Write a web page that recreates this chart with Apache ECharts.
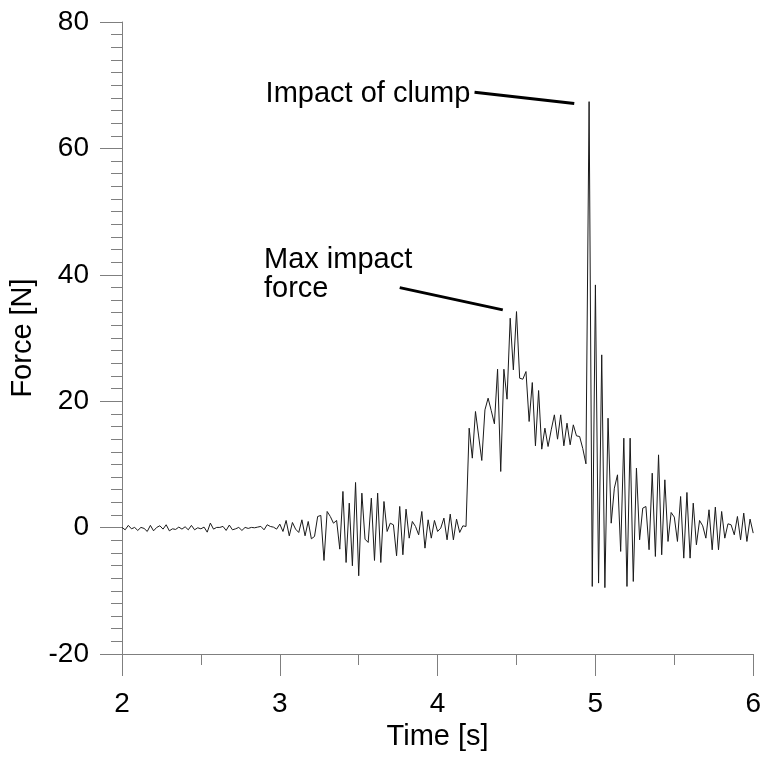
<!DOCTYPE html>
<html>
<head>
<meta charset="utf-8">
<script src="https://cdn.jsdelivr.net/npm/echarts@6/dist/echarts.min.js"></script>
<style>html,body{margin:0;padding:0;background:#fff;}#c{width:764px;height:757px;}</style>
</head>
<body>
<div id="c"></div>
<script>
// Time axis: samples every 0.02 s from 2 s to 6 s
const tStart = 2, tStep = 0.02;
// Force values [N], in sample order
const forceQuiet = [0.03,-0.35,0.35,-0.19,0.03,-0.45,0.03,-0.13,-0.61,0.35,-0.51,0.03,0.29,-0.24,0.45,-0.51,-0.19,-0.29,0.08,-0.24,0.13,-0.35,0.35,-0.35,-0.03,-0.19,0.08,-0.72,0.71,-0.24,0.03,0.03,0.19,-0.45,0.40,-0.35,-0.19,0.03,-0.45,0.03,-0.13,0.03,-0.03,0.08,0.19,-0.35,0.45];
const forceOscillation = [0.18,0.07,-0.24,0.55,-0.61,1.13,-1.30,0.81,-0.24,-0.77,1.23,-1.30,0.97,-1.77,-1.40,1.76,1.92,-5.20,2.55,1.76,0.70,1.13,-3.41,5.72,-5.52,3.87,-6.04,7.14,-7.62,5.45,-1.83,-2.35,4.66,-5.20,5.45,-5.52,4.13,-0.61,0.70,0.44,-4.46,3.35,-4.30,2.92,-1.67,0.97,0.18,-1.14,2.55,-3.25,1.23,-1.67,1.13,-0.61,-0.08,1.50,-1.93,2.13,-1.93,1.34,-0.77,0.28,0.18];
const forceImpact = [15.73,10.99,18.37,14.5,10.62,18.63,20.48,18.5,16.42,25.06,8.88,25.06,20.32,33.13,24.96,34.18,23.64,23.48,24.69,16.79,22.95,12.94,21.69,12.41,15.73,12.83,15.47,17.84,13.99,17.84,12.94,16.52,13.10,16.26,14.52,14.41,12.5,10.09];
const forceClump = [67.4,-9.31,38.4,-8.78,27.33,-9.5,17.31,0.7,6.24,8.35,-3.77,14.15,-9.31,14.15,-8.52,9.41,-1.93,3.08,3.34,-3.5,8.61,-4.57,11.51,-4.30,7.56,-2.19,2.39,1.66,-2.19,4.92,-4.83,5.56,-4.83,3.87,-2.72,1.13,0.28,-1.67,2.82,-3.51,3.24,-3.51,2.55,-1.67,0.60,0.44,-1.14,1.76,-1.93,2.29,-2.19,1.34,-0.87];

// Axis ticks
const xTicks = [2, 3, 4, 5, 6];
const yTicks = [-20, 0, 20, 40, 60, 80];

// Annotations: text, text anchor [t, F], pointer line [t1, F1] -> [t2, F2]
const annoTexts = ['Impact of clump', 'Max impact\nforce'];
const annoTextAt = [[2.910, 68.6], [2.900, 40.0]];
const annoLineFrom = [[4.234, 68.9], [3.760, 37.97]];
const annoLineTo = [[4.866, 67.1], [4.413, 34.45]];

const force = forceQuiet.concat(forceOscillation, forceImpact, forceClump);
const seriesData = force.map((v, i) => [+(tStart + i * tStep).toFixed(2), v]);

const FONT = 'Liberation Sans, Arial, sans-serif';
const axisGray = '#7f7f7f';

const chart = echarts.init(document.getElementById('c'), null, {renderer: 'canvas'});
chart.setOption({
  animation: false,
  backgroundColor: '#fff',
  grid: {left: 122, right: 10, top: 22, bottom: 103},
  xAxis: {
    type: 'value',
    min: xTicks[0], max: xTicks[xTicks.length - 1], interval: 1,
    name: 'Time [s]', nameLocation: 'middle', nameGap: 62,
    nameTextStyle: {fontFamily: FONT, fontSize: 29, color: '#000'},
    axisLine: {onZero: false, lineStyle: {color: axisGray, width: 1}},
    axisTick: {show: true, inside: false, length: 22, lineStyle: {color: axisGray}},
    minorTick: {show: true, splitNumber: 2, length: 11, lineStyle: {color: axisGray}},
    axisLabel: {fontFamily: FONT, fontSize: 28, color: '#000', margin: 36,
      formatter: v => String(v)},
    splitLine: {show: false}
  },
  yAxis: {
    type: 'value',
    min: yTicks[0], max: yTicks[yTicks.length - 1], interval: 20,
    name: 'Force [N]', nameLocation: 'middle', nameGap: 82,
    nameTextStyle: {fontFamily: FONT, fontSize: 29, color: '#000'},
    axisLine: {show: true, onZero: false, lineStyle: {color: axisGray, width: 1}},
    axisTick: {show: true, inside: false, length: 22, lineStyle: {color: axisGray}},
    minorTick: {show: true, splitNumber: 10, length: 11, lineStyle: {color: axisGray}},
    axisLabel: {fontFamily: FONT, fontSize: 28, color: '#000', margin: 33,
      formatter: v => String(v)},
    splitLine: {show: false}
  },
  series: [
    {
      type: 'line',
      data: seriesData,
      showSymbol: false,
      symbol: 'none',
      lineStyle: {color: '#1a1a1a', width: 1},
      markLine: {
        silent: true,
        symbol: ['none', 'none'],
        label: {show: false},
        lineStyle: {color: '#000', width: 3, type: 'solid'},
        data: annoLineFrom.map((p, i) => [{coord: p}, {coord: annoLineTo[i]}])
      }
    },
    {
      type: 'scatter',
      symbolSize: 0,
      silent: true,
      itemStyle: {opacity: 1},
      data: annoTextAt.map((p, i) => ({value: p, name: annoTexts[i]})),
      label: {
        show: true, position: 'right', distance: 0,
        formatter: p => p.name,
        fontFamily: FONT, fontSize: 29, lineHeight: 29, color: '#000', align: 'left'
      }
    }
  ]
});
</script>
</body>
</html>
